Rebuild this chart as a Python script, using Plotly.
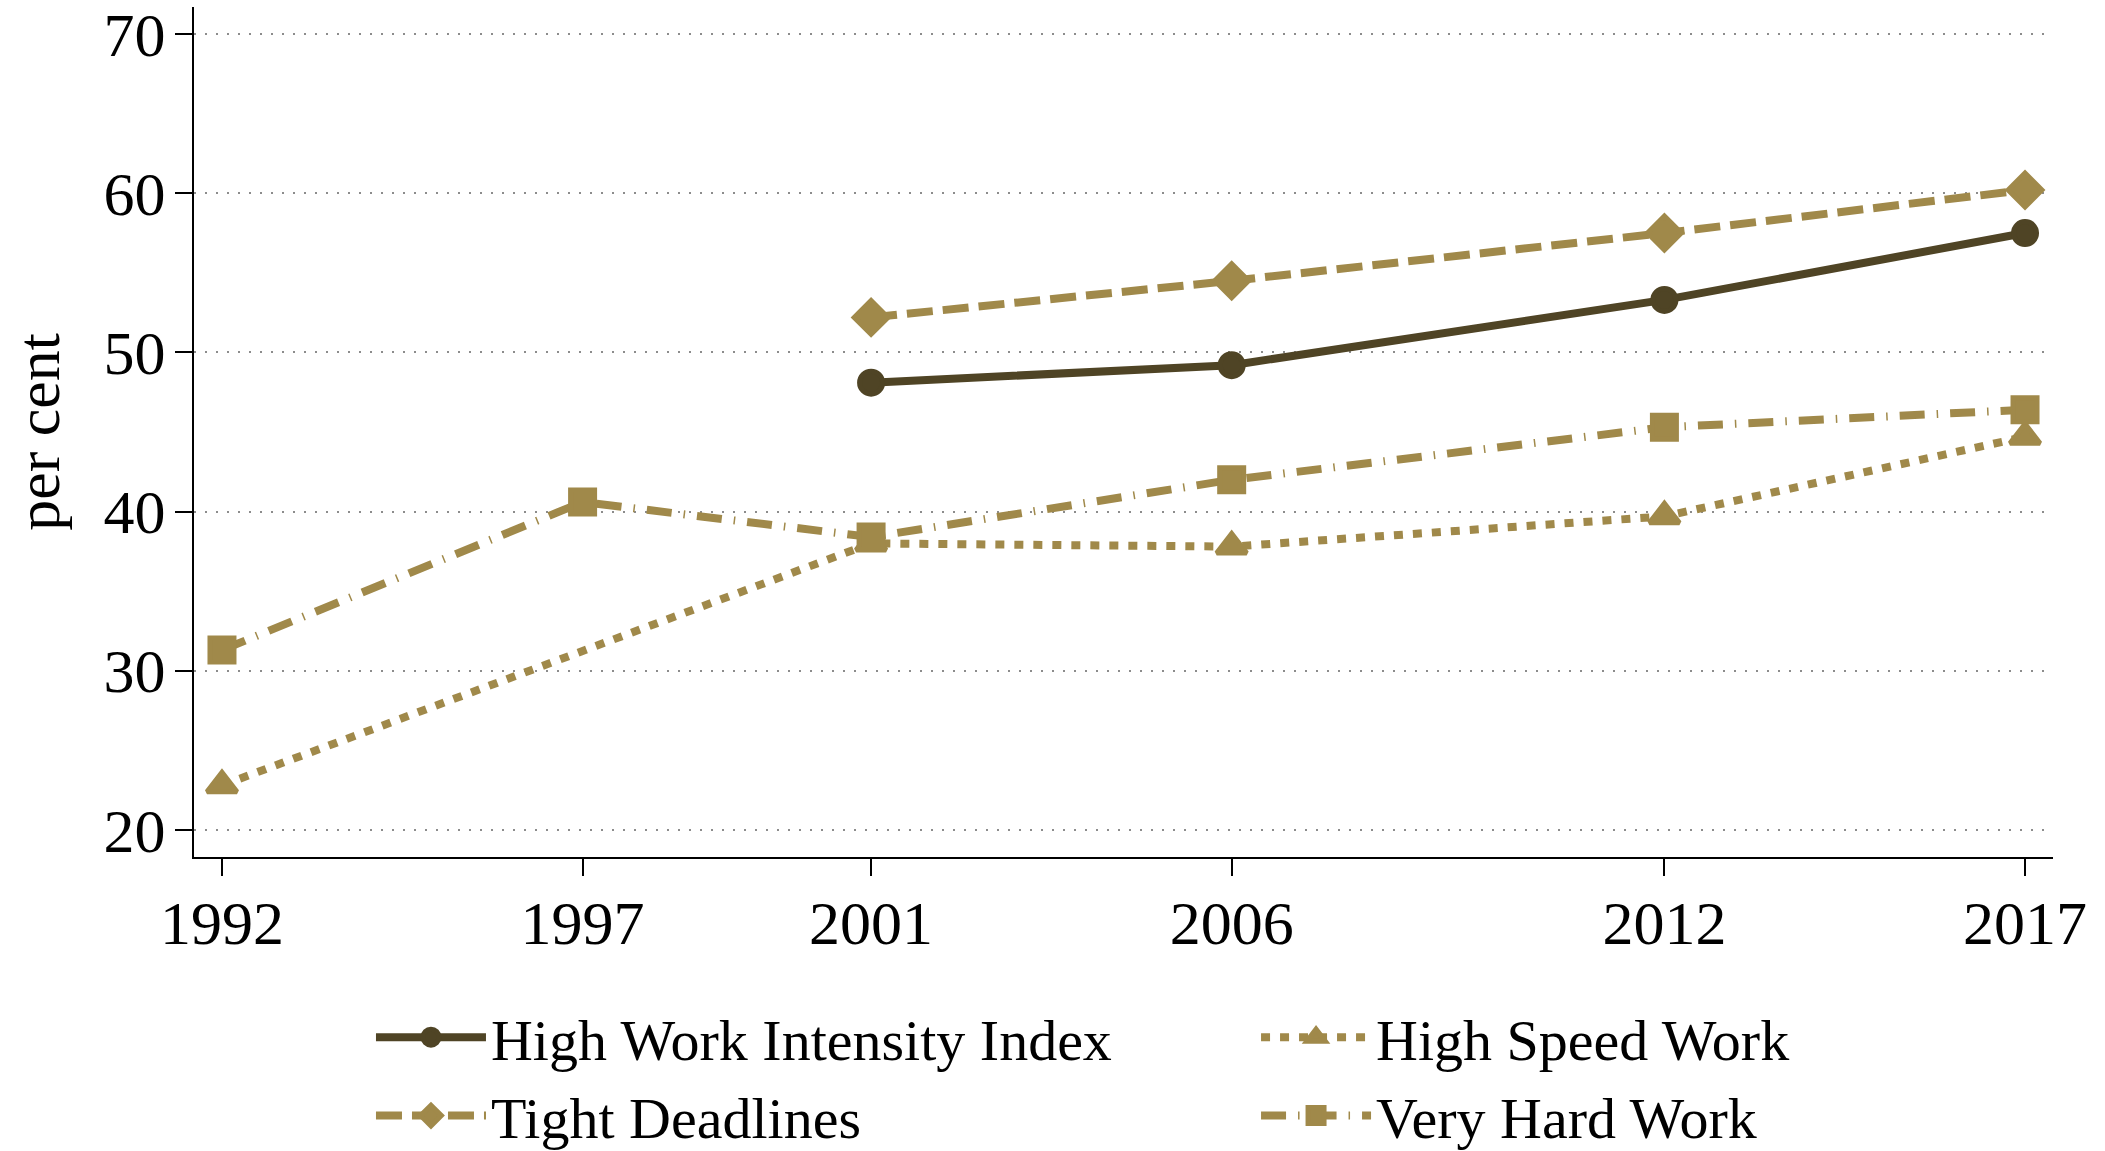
import plotly.graph_objs as go

years = [1992, 1997, 2001, 2006, 2012, 2017]
high_work_intensity = [None, None, 48.1, 49.2, 53.3, 57.5]
high_speed_work = [22.8, None, 38.0, 37.8, 39.7, 44.7]
tight_deadlines = [None, None, 52.2, 54.5, 57.5, 60.2]
very_hard_work = [31.3, 40.6, 38.4, 42.0, 45.3, 46.4]

dark = '#4f4425'
gold = '#a0894a'
font = 'Liberation Serif'

fig = go.Figure()
fig.add_trace(go.Scatter(x=years, y=high_work_intensity, name='High Work Intensity Index',
                         mode='lines+markers', connectgaps=True, legend='legend',
                         line=dict(color=dark, width=8),
                         marker=dict(symbol='circle', size=23, color=dark,
                                     line=dict(color=dark, width=5))))
fig.add_trace(go.Scatter(x=years, y=high_speed_work, name='High Speed Work',
                         mode='lines+markers', connectgaps=True, legend='legend2',
                         line=dict(color=gold, width=8, dash='9px,10px'),
                         marker=dict(symbol='triangle-up', size=26, color=gold,
                                     line=dict(color=gold, width=5))))
fig.add_trace(go.Scatter(x=years, y=tight_deadlines, name='Tight Deadlines',
                         mode='lines+markers', connectgaps=True, legend='legend',
                         line=dict(color=gold, width=8, dash='26px,10px'),
                         marker=dict(symbol='diamond', size=26, color=gold,
                                     line=dict(color=gold, width=5))))
fig.add_trace(go.Scatter(x=years, y=very_hard_work, name='Very Hard Work',
                         mode='lines+markers', connectgaps=True, legend='legend2',
                         line=dict(color=gold, width=8, dash='25px,12px,1.5px,12px'),
                         marker=dict(symbol='square', size=24, color=gold,
                                     line=dict(color=gold, width=5))))

# container-referenced y keeps the legends from pushing the bottom margin
legend_style = dict(orientation='v', xanchor='left', yanchor='top', itemwidth=110,
                    xref='paper', yref='container',
                    font=dict(family=font, size=58), tracegroupgap=0,
                    bgcolor='rgba(0,0,0,0)')

fig.update_layout(
    width=2105, height=1151,
    margin=dict(l=194, r=52, t=7, b=294),
    plot_bgcolor='white', paper_bgcolor='white',
    font=dict(family=font, size=62, color='black'),
    hovermode=False,
    legend=dict(x=0.0952, y=0.1373, **legend_style),
    legend2=dict(x=0.5713, y=0.1373, **legend_style),
)
# y title as an annotation so it does not push the left margin
fig.add_annotation(text='per cent', textangle=-90, showarrow=False,
                   xref='paper', yref='paper', x=-0.084, y=0.5,
                   xanchor='center', yanchor='middle',
                   font=dict(family=font, size=62, color='black'))
fig.update_xaxes(range=[1991.612, 2017.388], tickvals=years, ticktext=[str(y) for y in years],
                 showgrid=False, zeroline=False, showline=True, linecolor='black', linewidth=2,
                 ticks='outside', ticklen=17, tickwidth=2, tickcolor='black',
                 ticklabelstandoff=-6, automargin=False,
                 tickfont=dict(family=font, size=62))
fig.update_yaxes(range=[18.3, 71.7], tickvals=[20, 30, 40, 50, 60, 70],
                 showgrid=True, gridcolor='#8c8c8c', gridwidth=1.5, griddash='2px,9px',
                 zeroline=False, showline=True, linecolor='black', linewidth=2,
                 ticks='outside', ticklen=17, tickwidth=2, tickcolor='black',
                 ticklabelstandoff=-3, ticklabeloverflow='allow', automargin=False,
                 tickfont=dict(family=font, size=62))

# the page body has a default 8px margin; drop it so the figure fills the window
fig.write_html('out.html', config={'displayModeBar': False},
               post_script="document.body.style.margin='0px';")
